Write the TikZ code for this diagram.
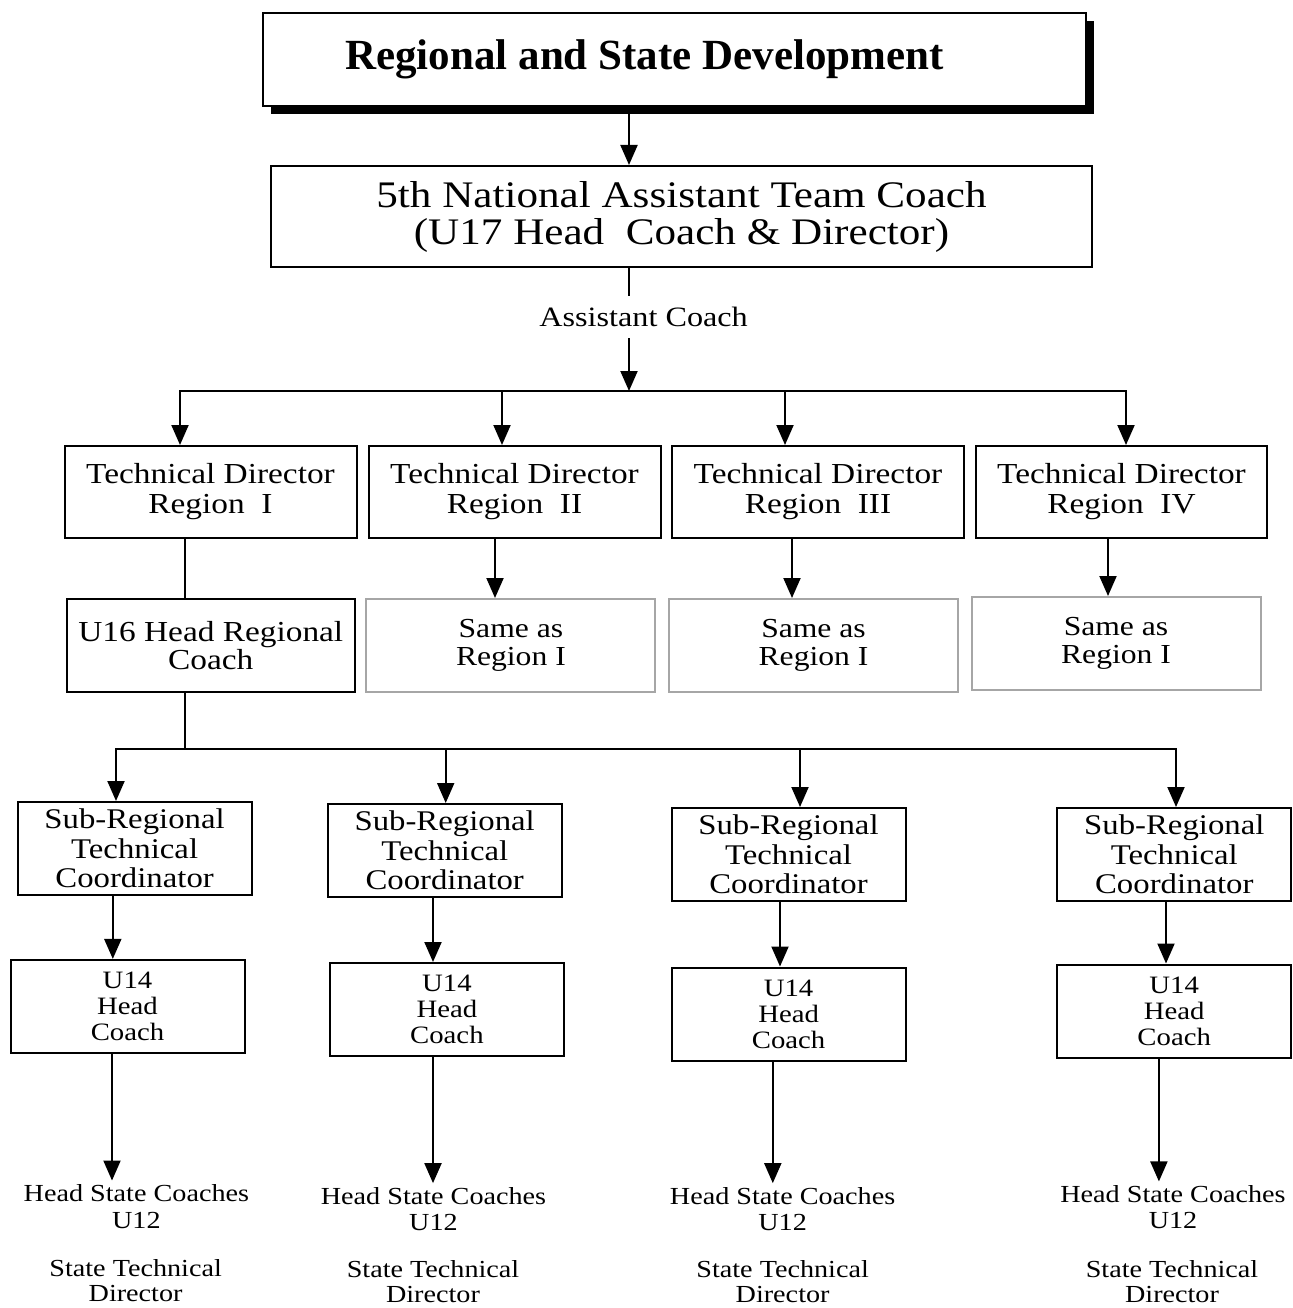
\documentclass[tikz,border=0pt]{standalone}
\usepackage{fontspec}
\setmainfont{Liberation Serif}[FakeStretch=1.15]
\newfontfamily\titlefont{Liberation Serif}
\usetikzlibrary{arrows.meta,shadows}

\begin{document}
\begin{tikzpicture}[x=1pt, y=-1pt, line width=2pt, >={Triangle[length=20pt,width=17pt]},
  box/.style={draw, rectangle, align=center, inner sep=0pt},
  greybox/.style={box, draw=black!35},
  td/.style={box, minimum width=292pt, minimum height=92pt, font=\fontsize{29}{30}\selectfont},
  same/.style={greybox, minimum width=289pt, minimum height=93pt, font=\fontsize{27.5}{28}\selectfont},
  sub/.style={box, minimum width=234pt, minimum height=93pt, font=\fontsize{28.5}{29.5}\selectfont},
  u14/.style={box, minimum width=234pt, minimum height=93pt, font=\fontsize{25}{26}\selectfont},
  hsc/.style={align=center, inner sep=3pt, font=\fontsize{24.5}{26.5}\selectfont},
  std/.style={align=center, inner sep=3pt, font=\fontsize{24.5}{25}\selectfont}]
\useasboundingbox (0,0) rectangle (1292,1308);

\node[box, line width=1.5pt, fill=white, minimum width=823pt, minimum height=93pt,
  font=\titlefont\bfseries\fontsize{43}{48}\selectfont,
  drop shadow={shadow xshift=8pt, shadow yshift=-8.5pt, fill=black, opacity=1}]
  (Title) at (674.5,59.4) {Regional and State Development\hspace*{60pt}};
\node[box, minimum width=821pt, minimum height=101pt, font=\fontsize{37.5}{37}\selectfont]
  (Nat) at (681.5,216.5) {5th National Assistant Team Coach\\(U17 Head~ Coach \& Director)};
\node[inner sep=10pt, font=\fontsize{28}{30}\selectfont] (AC) at (643.6,317.2) {Assistant Coach};
\coordinate (split) at (629,391);

\node[td] (TD1) at (210.5,492) {Technical Director\\Region~ I};
\node[td] (TD2) at (514.5,492) {Technical Director\\Region~ II};
\node[td] (TD3) at (818,492) {Technical Director\\Region~ III};
\node[td, minimum width=291pt] (TD4) at (1121.5,492) {Technical Director\\Region~ IV};

\node[box, minimum width=287.5pt, minimum height=93pt, font=\fontsize{29}{28}\selectfont]
  (U16) at (210.8,645.4) {U16 Head Regional\\Coach};
\node[same] (SA2) at (510.9,645.5) {Same as\\Region I};
\node[same] (SA3) at (813.5,645.5) {Same as\\Region I};
\node[same] (SA4) at (1116,643.5) {Same as\\Region I};
\coordinate (split2) at (185,749);

\node[sub] (SR1) at (134.6,848.5) {Sub-Regional\\Technical\\Coordinator};
\node[sub] (SR2) at (444.7,850.5) {Sub-Regional\\Technical\\Coordinator};
\node[sub] (SR3) at (788.5,854.5) {Sub-Regional\\Technical\\Coordinator};
\node[sub] (SR4) at (1174.3,854.5) {Sub-Regional\\Technical\\Coordinator};

\node[u14] (U14a) at (127.5,1006.4) {U14\\Head\\Coach};
\node[u14] (U14b) at (446.9,1009.5) {U14\\Head\\Coach};
\node[u14] (U14c) at (788.6,1014) {U14\\Head\\Coach};
\node[u14] (U14d) at (1174.2,1011) {U14\\Head\\Coach};

\node[hsc] (HS1) at (136.4,1206.4) {Head State Coaches\\U12};
\node[hsc] (HS2) at (433.5,1209) {Head State Coaches\\U12};
\node[hsc] (HS3) at (782.6,1209) {Head State Coaches\\U12};
\node[hsc] (HS4) at (1173,1207.3) {Head State Coaches\\U12};
\node[std] (ST1) at (135.6,1281) {State Technical\\Director};
\node[std] (ST2) at (433,1282) {State Technical\\Director};
\node[std] (ST3) at (782.6,1282) {State Technical\\Director};
\node[std] (ST4) at (1172,1281.5) {State Technical\\Director};

\draw[->] (Title.south -| split) -- (Nat.north -| split);
\draw (Nat.south -| split) -- (AC.north -| split);
\draw[->] (AC.south -| split) -- (split);
\draw[->] (split) -| ([xshift=-30.5pt]TD1.north);
\draw[->] (split) -| ([xshift=-12.5pt]TD2.north);
\draw[->] (split) -| ([xshift=-33pt]TD3.north);
\draw[->] (split) -| ([xshift=4.5pt]TD4.north);

\draw ([xshift=-26pt]TD1.south) -- ([xshift=-26pt]TD1.south |- U16.north);
\draw[->] ([xshift=-19.5pt]TD2.south) -- ([xshift=-19.5pt]TD2.south |- SA2.north);
\draw[->] ([xshift=-26pt]TD3.south) -- ([xshift=-26pt]TD3.south |- SA3.north);
\draw[->] ([xshift=-13.5pt]TD4.south) -- ([xshift=-13.5pt]TD4.south |- SA4.north);

\draw (U16.south -| split2) -- (split2);
\draw[->] (split2) -| ([xshift=-18.6pt]SR1.north);
\draw[->] (split2) -| ([xshift=1pt]SR2.north);
\draw[->] (split2) -| ([xshift=11.5pt]SR3.north);
\draw[->] (split2) -| ([xshift=1.7pt]SR4.north);

\draw[->] ([xshift=-21.8pt]SR1.south) -- ([xshift=-21.8pt]SR1.south |- U14a.north);
\draw[->] ([xshift=-11.7pt]SR2.south) -- ([xshift=-11.7pt]SR2.south |- U14b.north);
\draw[->] ([xshift=-8.5pt]SR3.south) -- ([xshift=-8.5pt]SR3.south |- U14c.north);
\draw[->] ([xshift=-8.3pt]SR4.south) -- ([xshift=-8.3pt]SR4.south |- U14d.north);

\draw[->] ([xshift=-15.5pt]U14a.south) -- ([xshift=-15.5pt]U14a.south |- HS1.north);
\draw[->] ([xshift=-13.9pt]U14b.south) -- ([xshift=-13.9pt]U14b.south |- HS2.north);
\draw[->] ([xshift=-15.8pt]U14c.south) -- ([xshift=-15.8pt]U14c.south |- HS3.north);
\draw[->] ([xshift=-15.3pt]U14d.south) -- ([xshift=-15.3pt]U14d.south |- HS4.north);
\end{tikzpicture}
\end{document}
